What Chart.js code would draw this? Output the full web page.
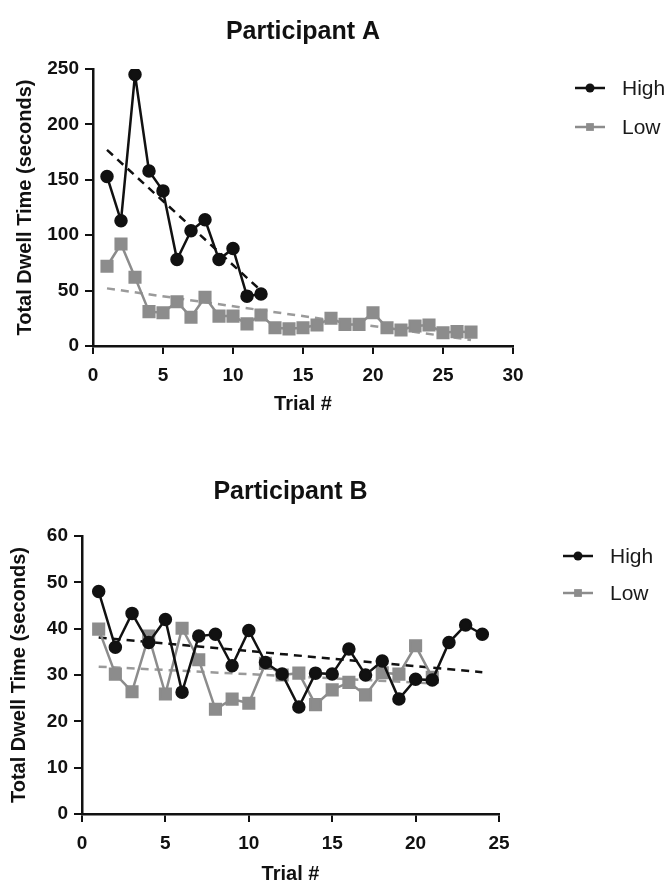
<!DOCTYPE html>
<html>
<head>
<meta charset="utf-8">
<script src="https://cdn.jsdelivr.net/npm/chart.js@4/dist/chart.umd.min.js"></script>
<style>
  html, body { margin: 0; padding: 0; background: #fff; }
  #chartA { position: absolute; left: 0; top: 0; }
  #chartB { position: absolute; left: 0; top: 440px; }
</style>
</head>
<body>
<canvas id="chartA" width="668" height="430"></canvas>
<canvas id="chartB" width="668" height="446"></canvas>
<script>
// Participant A
const trialsHighA = [1, 2, 3, 4, 5, 6, 7, 8, 9, 10, 11, 12];
const highA = [153, 113, 245, 158, 140, 78, 104, 114, 78, 88, 45, 47];
const trialsLowA = [1, 2, 3, 4, 5, 6, 7, 8, 9, 10, 11, 12, 13, 14, 15, 16, 17, 18, 19, 20, 21, 22, 23, 24, 25, 26, 27];
const lowA = [72, 92, 62, 31, 30, 40, 26, 44, 27, 27, 20, 28, 16.5, 15.5, 16.5, 19, 25, 19.5, 19.5, 30, 16.5, 14.5, 18, 19, 12, 13, 12.5];
const trendTrialsHighA = [1, 12];
const trendHighA = [177, 50];
const trendTrialsLowA = [1, 27];
const trendLowA = [52, 5.5];
const xTicksA = [0, 30, 5];
const yTicksA = [0, 250, 50];

// Participant B
const trialsHighB = [1, 2, 3, 4, 5, 6, 7, 8, 9, 10, 11, 12, 13, 14, 15, 16, 17, 18, 19, 20, 21, 22, 23, 24];
const highB = [48, 36, 43.3, 37, 42, 26.3, 38.4, 38.8, 32, 39.6, 32.7, 30.2, 23.1, 30.4, 30.2, 35.6, 30, 33, 24.8, 29.1, 28.9, 37, 40.8, 38.8];
const trialsLowB = [1, 2, 3, 4, 5, 6, 7, 8, 9, 10, 11, 12, 13, 14, 15, 16, 17, 18, 19, 20, 21];
const lowB = [39.9, 30.2, 26.4, 38.4, 25.9, 40.1, 33.3, 22.6, 24.8, 23.9, 32.5, 30, 30.4, 23.6, 26.8, 28.4, 25.7, 30.5, 30.2, 36.3, 29.5];
const trendTrialsHighB = [1, 24];
const trendHighB = [38.1, 30.6];
const trendTrialsLowB = [1, 21];
const trendLowB = [31.8, 28.2];
const xTicksB = [0, 25, 5];
const yTicksB = [0, 60, 10];

const FONT = '"Liberation Sans", Arial, Helvetica, sans-serif';
const BLACK = '#111111';
const GREY = '#8c8c8c';

function toPoints(xs, ys) {
  return xs.map((x, i) => ({ x: x, y: ys[i] }));
}

// legend drawn at the right, one row per dataset that has a label
const sideLegend = {
  id: 'sideLegend',
  afterDraw(chart, args, opts) {
    const ctx = chart.ctx;
    chart.data.datasets.forEach(ds => {
      if (ds.legendRow === undefined) return;
      const y = opts.top + ds.legendRow * opts.gap;
      ctx.save();
      ctx.strokeStyle = ds.borderColor;
      ctx.lineWidth = ds.borderWidth;
      ctx.beginPath();
      ctx.moveTo(opts.lineX, y);
      ctx.lineTo(opts.lineX + opts.lineLen, y);
      ctx.stroke();
      ctx.fillStyle = ds.pointBackgroundColor;
      ctx.strokeStyle = ds.pointBackgroundColor;
      Chart.helpers.drawPoint(ctx, {
        pointStyle: ds.pointStyle,
        radius: ds.pointStyle === 'rect' ? 5.5 : 4.5,
        borderWidth: 0,
        rotation: 0
      }, opts.lineX + opts.lineLen / 2, y);
      ctx.fillStyle = '#1a1a1a';
      ctx.font = '21px ' + FONT;
      ctx.textBaseline = 'middle';
      ctx.textAlign = 'left';
      ctx.fillText(ds.label, opts.textX, y + 1);
      ctx.restore();
    });
  }
};

function makeChart(id, cfg) {
  const highSet = {
    label: 'High',
    legendRow: 0,
    data: toPoints(cfg.trialsHigh, cfg.high),
    borderColor: BLACK,
    backgroundColor: BLACK,
    pointBackgroundColor: BLACK,
    pointBorderColor: BLACK,
    pointStyle: 'circle',
    pointRadius: 5.5,
    borderWidth: 2.5,
    order: 0
  };
  const lowSet = {
    label: 'Low',
    legendRow: 1,
    data: toPoints(cfg.trialsLow, cfg.low),
    borderColor: GREY,
    backgroundColor: GREY,
    pointBackgroundColor: GREY,
    pointBorderColor: GREY,
    pointStyle: 'rect',
    pointRadius: 7.5,
    borderWidth: 2.5,
    order: 1
  };
  const trendHigh = {
    data: toPoints(cfg.trendTrialsHigh, cfg.trendHigh),
    borderColor: BLACK,
    borderWidth: 2.5,
    borderDash: [8, 6],
    pointRadius: 0,
    order: 2
  };
  const trendLow = {
    data: toPoints(cfg.trendTrialsLow, cfg.trendLow),
    borderColor: '#9a9a9a',
    borderWidth: 2.5,
    borderDash: [8, 6],
    pointRadius: 0,
    order: 3
  };

  return new Chart(document.getElementById(id), {
    type: 'line',
    data: { datasets: [highSet, lowSet, trendHigh, trendLow] },
    plugins: [sideLegend],
    options: {
      responsive: false,
      animation: false,
      events: [],
      layout: { padding: { left: 0, right: cfg.padRight, top: 0, bottom: 0 } },
      elements: { line: { tension: 0 } },
      plugins: {
        legend: { display: false },
        tooltip: { enabled: false },
        title: {
          display: true,
          text: cfg.title,
          fullSize: false,
          color: '#111',
          font: { family: FONT, size: 25, weight: 'bold' },
          padding: { top: cfg.titleTop, bottom: cfg.titleBottom }
        },
        sideLegend: cfg.legend
      },
      scales: {
        x: {
          type: 'linear',
          min: cfg.xTicks[0],
          max: cfg.xTicks[1],
          afterFit: s => { s.height = cfg.xHeight; },
          ticks: {
            stepSize: cfg.xTicks[2],
            color: '#111',
            padding: 10,
            maxRotation: 0,
            font: { family: FONT, size: 19, weight: 'bold' }
          },
          grid: { drawOnChartArea: false, drawTicks: true, tickLength: 8, color: '#111', lineWidth: 2 },
          border: { color: '#111', width: 2.5 },
          title: {
            display: true,
            text: 'Trial #',
            color: '#111',
            font: { family: FONT, size: 20, weight: 'bold' },
            padding: { top: 0, bottom: cfg.xTitleBottom }
          }
        },
        y: {
          type: 'linear',
          min: cfg.yTicks[0],
          max: cfg.yTicks[1],
          afterFit: s => { s.width = cfg.yWidth; },
          ticks: {
            stepSize: cfg.yTicks[2],
            color: '#111',
            padding: 6,
            font: { family: FONT, size: 19, weight: 'bold' }
          },
          grid: { drawOnChartArea: false, drawTicks: true, tickLength: 8, color: '#111', lineWidth: 2 },
          border: { color: '#111', width: 2.5 },
          title: {
            display: true,
            text: 'Total Dwell Time (seconds)',
            color: '#111',
            font: { family: FONT, size: 20, weight: 'bold' },
            padding: { top: cfg.yTitleTop, bottom: 0 }
          }
        }
      }
    }
  });
}

makeChart('chartA', {
  title: 'Participant A',
  trialsHigh: trialsHighA, high: highA,
  trialsLow: trialsLowA, low: lowA,
  trendTrialsHigh: trendTrialsHighA, trendHigh: trendHighA,
  trendTrialsLow: trendTrialsLowA, trendLow: trendLowA,
  xTicks: xTicksA, yTicks: yTicksA,
  padRight: 155, yWidth: 93, xHeight: 84,
  titleTop: 17, titleBottom: 22,
  xTitleBottom: 14, yTitleTop: 13,
  legend: { top: 88, gap: 39, lineX: 575, lineLen: 30, textX: 622 }
});

makeChart('chartB', {
  title: 'Participant B',
  trialsHigh: trialsHighB, high: highB,
  trialsLow: trialsLowB, low: lowB,
  trendTrialsHigh: trendTrialsHighB, trendHigh: trendHighB,
  trendTrialsLow: trendTrialsLowB, trendLow: trendLowB,
  xTicks: xTicksB, yTicks: yTicksB,
  padRight: 169, yWidth: 82, xHeight: 72,
  titleTop: 37, titleBottom: 29,
  xTitleBottom: 0, yTitleTop: 7,
  legend: { top: 116, gap: 37, lineX: 563, lineLen: 30, textX: 610 }
});
</script>
</body>
</html>
